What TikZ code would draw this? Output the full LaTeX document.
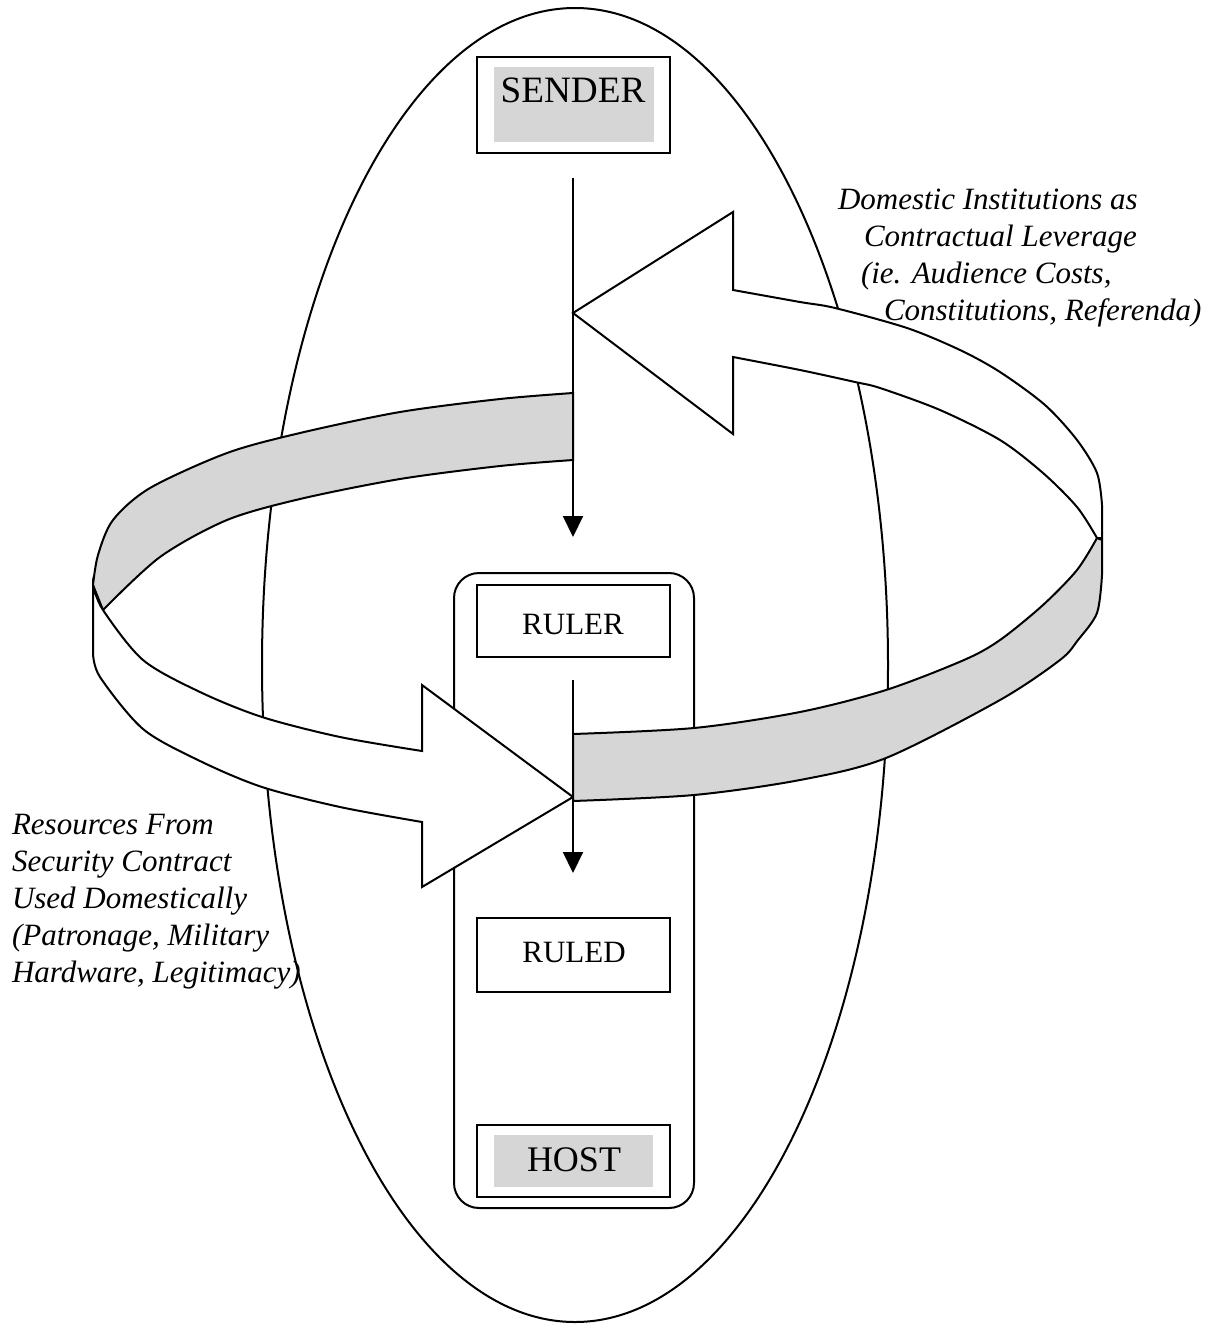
\documentclass[tikz,border=0pt]{standalone}
\usepackage{fontspec}
\setmainfont{Liberation Serif}
\usetikzlibrary{arrows.meta}
\definecolor{bandgrey}{HTML}{D6D6D6}
\begin{document}
\begin{tikzpicture}[x=0.5pt,y=-0.5pt, line width=1pt,
  boxline/.style={draw, line width=1pt, inner sep=0pt},
  ribbon/.style={draw, line width=1pt, line join=miter},
  vline/.style={line width=1pt, -{Triangle[width=10pt,length=10.5pt]}},
  bigtext/.style={font=\fontsize{18pt}{21pt}\selectfont, inner sep=0pt},
  midtext/.style={font=\fontsize{15.5pt}{18.5pt}\selectfont, inner sep=0pt},
  ittext/.style={font=\fontsize{15.5pt}{18.5pt}\selectfont\itshape, inner sep=0pt, align=left}]

\useasboundingbox (0,0) rectangle (1222,1328);
\fill[white] (0,0) rectangle (1222,1328);

% outer ellipse
\draw (575,665) ellipse [x radius=313, y radius=657];

% SENDER
\node[boxline, minimum width=96.5pt, minimum height=48pt] (senderbox) at (573.5,105) {};
\fill[bandgrey] (494,67) rectangle (654,142);
\node[bigtext, font=\fontsize{18.6pt}{21pt}\selectfont, anchor=base] (sender) at (573,102) {SENDER};

% state (rounded) and inner boxes
\node[boxline, rounded corners=12.5pt, minimum width=120pt, minimum height=317.5pt] (state) at (574,890.5) {};
\node[boxline, minimum width=96.5pt, minimum height=36pt] (rulerbox) at (573.5,621) {};
\node[midtext, anchor=base] (ruler) at (573,634) {RULER};
\node[boxline, minimum width=96.5pt, minimum height=37pt] (ruledbox) at (573.5,955) {};
\node[midtext, anchor=base] (ruled) at (574,962) {RULED};
\node[boxline, minimum width=96.5pt, minimum height=36pt] (hostbox) at (573.5,1161) {};
\fill[bandgrey] (494,1135) rectangle (653,1187);
\node[bigtext, anchor=base] (host) at (574,1171) {HOST};

% Arrow A, back part (grey)
\filldraw[ribbon, fill=bandgrey] plot[smooth] coordinates {(573,393) (500,399) (400,412) (300,433) (227,453) (150,488) (113,520) (98,555) (93,585)} -- (103,610) -- plot[smooth] coordinates {(103,610) (160,557) (227,520) (300,499) (400,479) (500,466) (573,460)} -- cycle;
% Arrow A, front part (white) with head
\filldraw[ribbon, fill=white] (93,585) -- (93,653) -- plot[smooth] coordinates {(93,653) (100,677) (143,729) (200,761) (262,787) (340,807) (422,822)} -- (422,887) -- (573,797) -- (422,685) -- (422,751) -- plot[smooth] coordinates {(422,751) (340,737) (262,717) (200,692) (143,660) (103,610) (93,585)} -- cycle;

% Arrow B, back part (white) with head
\filldraw[ribbon, fill=white] (733,357) -- (733,434) -- (573,313) -- (733,212) -- (733,290) -- plot[smooth] coordinates {(733,290) (800,302) (835,308) (907,328) (960,350) (1000,372) (1045,405) (1077,440) (1097,473) (1102,505)} -- (1102,538) -- (1097,538) -- plot[smooth] coordinates {(1097,538) (1077,507) (1043,473) (1000,440) (940,410) (880,388) (855,382) (800,370) (733,357)} -- cycle;
% Arrow B, front part (grey)
\filldraw[ribbon, fill=bandgrey] (573,734) -- plot[smooth] coordinates {(573,734) (694,728) (800,712) (886,690) (964,660) (1000,640) (1043,605) (1077,570) (1097,538)} -- (1102,540) -- (1102,575) -- plot[smooth] coordinates {(1102,575) (1097,613) (1078,640) (1060,660) (1000,700) (886,758) (800,780) (694,795) (573,801)} -- cycle;

% vertical arrows
\coordinate (a1s) at (573,178);
\coordinate (a1e) at (573,537);
\draw[vline] (a1s) -- (a1e);
\coordinate (a2s) at (573,680);
\coordinate (a2e) at (573,873);
\draw[vline] (a2s) -- (a2e);

% labels
\node[ittext, anchor=base west] (dom) at (837,320) {Domestic Institutions as\\\hspace*{13pt}Contractual Leverage\\\hspace*{11.5pt}(ie. Audience Costs,\\\hspace*{23pt}Constitutions, Referenda)};
\node[ittext, anchor=base west] (res) at (11,982) {Resources From\\Security Contract\\Used Domestically\\(Patronage, Military\\Hardware, Legitimacy)};
\end{tikzpicture}
\end{document}
